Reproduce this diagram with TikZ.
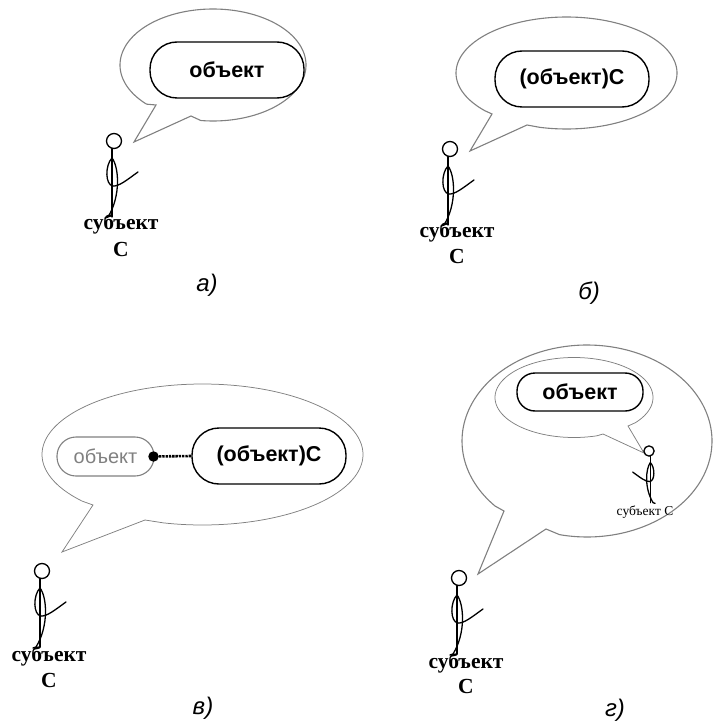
\documentclass[tikz,border=0pt]{standalone}
\usepackage{fontspec}
\setmainfont{Liberation Sans}
\newfontfamily\timesf{Liberation Serif}
\tikzset{
  x=1pt,y=-1pt,
  bubbleline/.style={draw=black!50,line width=1.1pt,line join=miter},
  thinbubble/.style={draw=black!50,line width=0.75pt,line join=miter},
  objbox/.style={draw=black,line width=1.4pt,rounded corners=27pt,inner sep=0pt,font=\fontsize{21.5}{24}\selectfont\bfseries},
  greybox/.style={draw=black!50,line width=1.1pt,rounded corners=19pt,inner sep=0pt,text=black!50,font=\fontsize{20}{22}\selectfont},
  sublabel/.style={inner sep=0pt,font=\timesf\fontsize{21.5}{24}\selectfont\bfseries},
  caption/.style={inner sep=0pt,font=\fontsize{24}{26}\selectfont\itshape},
  stickline/.style={line width=1.3pt,line cap=round},
  blackdot/.style={circle,fill=black,inner sep=0pt,minimum size=10.5pt},
  pics/stick/.style={code={
    \draw[stickline] (0,0) circle[radius=7.5];
    \draw[stickline] (-2,7.5) -- (-2,76);
    \draw[stickline] (-2,17) .. controls (-9,24) and (-9,44) .. (-1,45);
    \draw[stickline] (-2,17) .. controls (5,26) and (7,55) .. (-6,76) -- (-9,77);
    \draw[stickline] (-2,45) .. controls (5,46) and (14,38) .. (24,31);
  }}
}
\newcommand{\bubbleat}[6]{%
  \def\bcx{#2}\def\bcy{#3}\def\brx{#4}\def\bry{#5}%
  \BubbleB{#1}#6}
\def\BubbleB#1(#2,#3)(#4,#5)(#6,#7){%
  \pgfmathsetmacro\ta{atan2((#3-\bcy)/\bry,(#2-\bcx)/\brx)+5}%
  \pgfmathsetmacro\tb{atan2((#7-\bcy)/\bry,(#6-\bcx)/\brx)+360-7}%
  \draw[#1] plot[domain=\ta:\tb,samples=160] ({\bcx+\brx*cos(\x)},{\bcy+\bry*sin(\x)}) -- (#6,#7) -- (#4,#5) -- (#2,#3) -- cycle;}
\begin{document}
\begin{tikzpicture}
\useasboundingbox (0,0) rectangle (712,727);
% a
\bubbleat{bubbleline}{213}{65}{93}{56}{(156,105)(134,142)(191,116)}
\node[objbox,minimum width=154pt,minimum height=56pt] (objA) at (227,70) {объект};
\pic at (114,141) {stick};
\node[sublabel] (subA) at (121,224) {субъект};
\node[sublabel] (cA) at (121,249) {С};
\node[caption] (capA) at (207,285) {а)};
% b
\bubbleat{bubbleline}{566.5}{73}{110.5}{56}{(492,114)(470,151)(527,125)}
\node[objbox,minimum width=154pt,minimum height=56pt] (objB) at (572,79) {(объект)С};
\pic at (450,149) {stick};
\node[sublabel] (subB) at (457,232) {субъект};
\node[sublabel] (cB) at (457,256) {С};
\node[caption] (capB) at (589,293) {б)};
% c
\bubbleat{thinbubble}{202.5}{454.5}{160.5}{70.5}{(93,505)(62,552)(145,520)}
\node[greybox,minimum width=97pt,minimum height=39pt] (objCg) at (105.5,456.5) {объект};
\node[objbox,minimum width=154pt,minimum height=56pt] (objC) at (269,456) {(объект)С};
\node[blackdot] (dotC) at (153.5,456.5) {};
\draw[line width=2.6pt,dash pattern=on 2.4pt off 0.9pt] (dotC) -- (objC.west);
\pic at (42,571) {stick};
\node[sublabel] (subC) at (49,656) {субъект};
\node[sublabel] (cC) at (49,680) {С};
\node[caption] (capC) at (203,708) {в)};
% d
\bubbleat{bubbleline}{587}{441}{125}{96}{(504,511)(478,574)(546,529)}
\bubbleat{thinbubble}{574}{397.5}{79}{40}{(603,434)(644,453)(628,426)}
\node[objbox,minimum width=126pt,minimum height=38pt,rounded corners=18pt] (objD) at (580,392) {объект};
\pic[xscale=-0.68,yscale=0.68] at (649,451) {stick};
\node[inner sep=0pt,font=\timesf\fontsize{13.5}{15}\selectfont] (subDs) at (645,512) {субъект С};
\pic at (459,578) {stick};
\node[sublabel] (subD) at (466,663) {субъект};
\node[sublabel] (cD) at (466,686) {С};
\node[caption] (capD) at (615,710) {г)};
\end{tikzpicture}
\end{document}
